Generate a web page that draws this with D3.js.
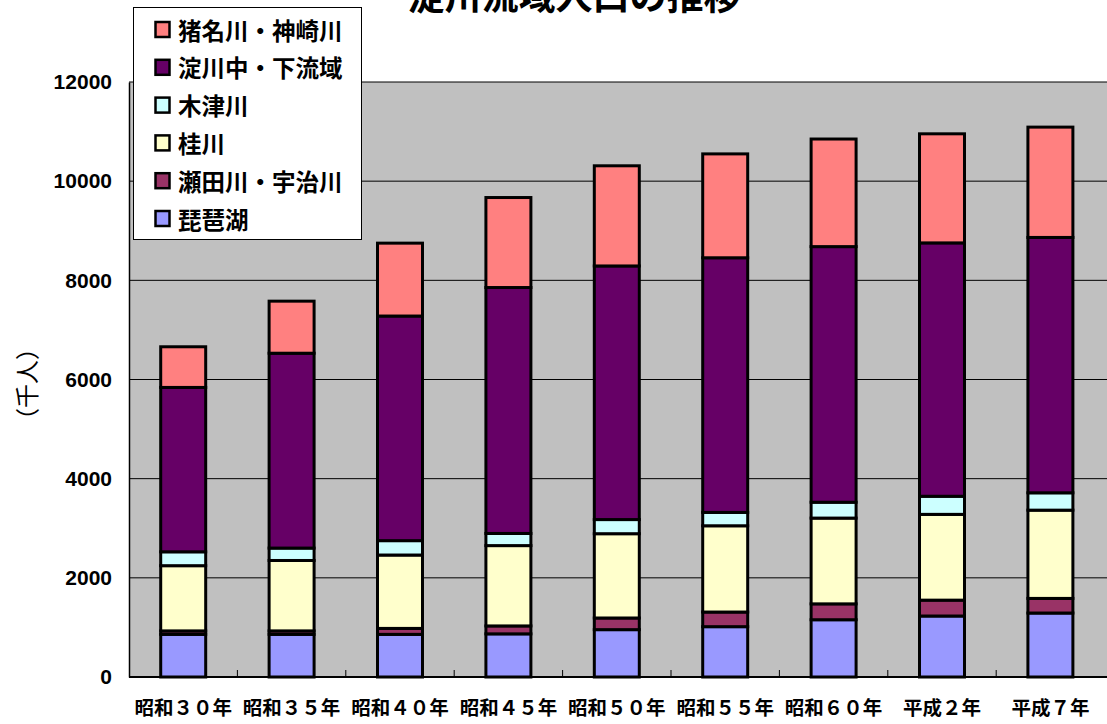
<!DOCTYPE html>
<html>
<head>
<meta charset="utf-8">
<script src="https://cdn.jsdelivr.net/npm/d3@7"></script>
<style>
  body { margin: 0; background: #fff; }
  svg { display: block; }
</style>
</head>
<body>
<svg id="chart" width="1107" height="724"></svg>
<script>
// Population of the Yodo River basin (thousand people), by sub-basin
const years = ["昭和３０年", "昭和３５年", "昭和４０年", "昭和４５年", "昭和５０年", "昭和５５年", "昭和６０年", "平成２年", "平成７年"];

const seriesNames = ["琵琶湖", "瀬田川・宇治川", "桂川", "木津川", "淀川中・下流域", "猪名川・神崎川"];
const seriesColors = ["#9999FF", "#993366", "#FFFFCC", "#CCFFFF", "#660066", "#FF8080"];

const biwako   = [860, 860, 860, 870, 955, 1015, 1155, 1230, 1290];
const setagawa = [70, 70, 120, 160, 235, 295, 320, 320, 295];
const katsura  = [1315, 1420, 1480, 1620, 1700, 1740, 1730, 1730, 1780];
const kizu     = [280, 250, 290, 245, 285, 270, 320, 365, 350];
const yodoMid  = [3315, 3930, 4530, 4960, 5115, 5135, 5155, 5110, 5150];
const ina      = [820, 1050, 1470, 1815, 2020, 2095, 2170, 2200, 2225];

const yTicks = [0, 2000, 4000, 6000, 8000, 10000, 12000];

const title = "淀川流域人口の推移";
const yTitle = "（千人）";

const seriesValues = [biwako, setagawa, katsura, kizu, yodoMid, ina];
const rows = years.map((yr, i) => {
  const r = { year: yr };
  seriesNames.forEach((s, k) => { r[s] = seriesValues[k][i]; });
  return r;
});

const svg = d3.select("#chart");
const cjk = "'Noto Sans CJK JP', 'Noto Sans', sans-serif";

const plot = { left: 129, top: 82, bottom: 677, right: 1107, bandsRight: 1104.6 };

const x = d3.scaleBand()
  .domain(years)
  .range([plot.left, plot.bandsRight])
  .paddingInner(0.585)
  .paddingOuter(0.2925);

const y = d3.scaleLinear().domain([0, 12000]).range([plot.bottom, plot.top]);

const color = d3.scaleOrdinal().domain(seriesNames).range(seriesColors);

// plot background
svg.append("rect")
  .attr("x", plot.left).attr("y", plot.top)
  .attr("width", plot.right - plot.left).attr("height", plot.bottom - plot.top)
  .attr("fill", "#C0C0C0");

// horizontal gridlines
svg.append("g").selectAll("line")
  .data(yTicks.filter(d => d > 0))
  .join("line")
  .attr("x1", plot.left).attr("x2", plot.right)
  .attr("y1", d => y(d)).attr("y2", d => y(d))
  .attr("stroke", "#000").attr("stroke-width", 1);

// stacked bars
const stacked = d3.stack().keys(seriesNames)(rows);
svg.append("g").selectAll("g")
  .data(stacked)
  .join("g")
  .attr("fill", d => color(d.key))
  .selectAll("rect")
  .data(d => d)
  .join("rect")
  .attr("x", d => x(d.data.year))
  .attr("width", x.bandwidth())
  .attr("y", d => y(d[1]))
  .attr("height", d => y(d[0]) - y(d[1]))
  .attr("stroke", "#000")
  .attr("stroke-width", 3);

// y axis
const yAxis = svg.append("g")
  .attr("transform", `translate(${plot.left},0)`)
  .call(d3.axisLeft(y).tickValues(yTicks).tickSize(0).tickPadding(17).tickFormat(d3.format("d")));
yAxis.select(".domain").attr("stroke", "#000").attr("stroke-width", 1.5);
yAxis.selectAll("text")
  .attr("font-family", "'Liberation Sans', Arial, sans-serif")
  .attr("font-weight", "bold")
  .attr("font-size", 21)
  .attr("fill", "#000");

// x axis
const xAxis = svg.append("g")
  .attr("transform", `translate(0,${plot.bottom})`)
  .call(d3.axisBottom(x).tickSize(0).tickPadding(0));
xAxis.select(".domain").remove();
xAxis.selectAll("text")
  .attr("font-family", cjk)
  .attr("font-weight", "bold")
  .attr("font-size", 19.5)
  .attr("fill", "#000")
  .attr("dy", null)
  .attr("y", 38);

svg.append("line")
  .attr("x1", plot.left).attr("x2", plot.right)
  .attr("y1", plot.bottom).attr("y2", plot.bottom)
  .attr("stroke", "#000").attr("stroke-width", 2);

// category separator ticks along the baseline
const sepPositions = d3.range(1, years.length).map(i => x.range()[0] + i * x.step());
svg.append("g").selectAll("line")
  .data(sepPositions)
  .join("line")
  .attr("x1", d => d).attr("x2", d => d)
  .attr("y1", plot.bottom).attr("y2", plot.bottom - 7)
  .attr("stroke", "#000").attr("stroke-width", 1);

// y axis title
svg.append("text")
  .attr("transform", "translate(25,384) rotate(-90)")
  .attr("text-anchor", "middle")
  .attr("dominant-baseline", "central")
  .attr("font-family", cjk)
  .attr("font-size", 24)
  .attr("fill", "#000")
  .text(yTitle);

// title
svg.append("text")
  .attr("x", 574).attr("y", 10)
  .attr("text-anchor", "middle")
  .attr("font-family", cjk)
  .attr("font-weight", "bold")
  .attr("font-size", 37)
  .attr("fill", "#000")
  .text(title);

// legend
const legend = svg.append("g");
legend.append("rect")
  .attr("x", 133.5).attr("y", 7.5)
  .attr("width", 228).attr("height", 232)
  .attr("fill", "#fff").attr("stroke", "#000").attr("stroke-width", 1);

const legendItems = seriesNames.slice().reverse();
const ly = d3.scalePoint().domain(legendItems).range([29.5, 218.5]);
const li = legend.selectAll("g.item")
  .data(legendItems)
  .join("g")
  .attr("class", "item")
  .attr("transform", d => `translate(0,${ly(d)})`);
li.append("rect")
  .attr("x", 155.5).attr("y", -7.5)
  .attr("width", 14).attr("height", 15)
  .attr("fill", d => color(d))
  .attr("stroke", "#000").attr("stroke-width", 2.5);
li.append("text")
  .attr("x", 178).attr("y", 0)
  .attr("dominant-baseline", "central")
  .attr("font-family", cjk)
  .attr("font-weight", "bold")
  .attr("font-size", 23.5)
  .attr("fill", "#000")
  .text(d => d);
</script>
</body>
</html>
